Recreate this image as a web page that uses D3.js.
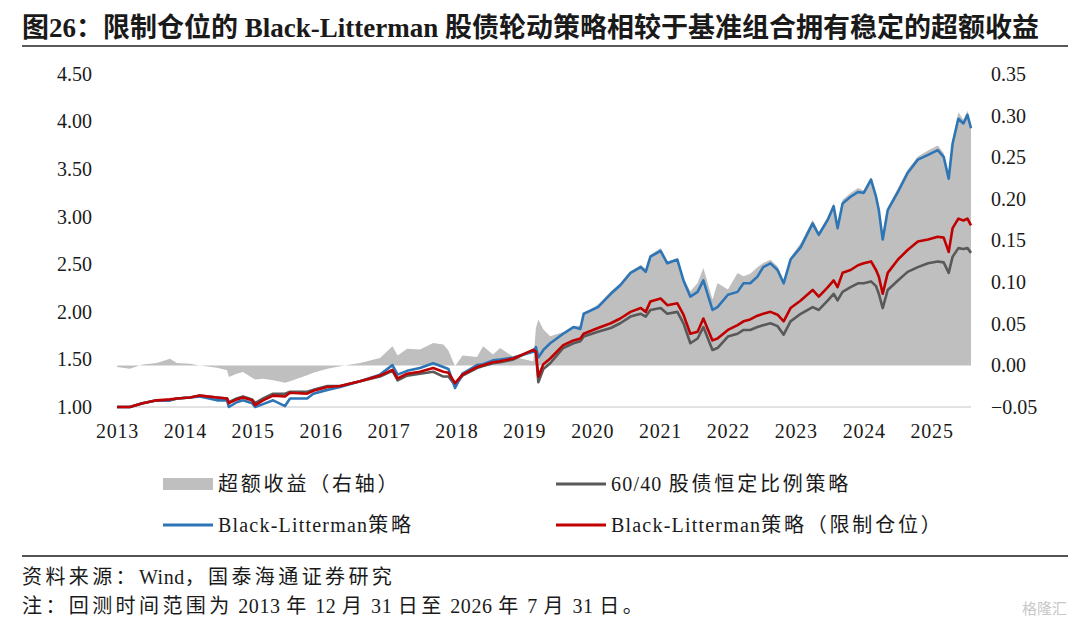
<!DOCTYPE html>
<html lang="zh">
<head>
    <meta charset="UTF-8">
    <title>Black-Litterman 股债轮动</title>
    <script src="https://d3js.org/d3.v7.min.js"></script>
    <style>
        body { margin: 0; background: #fff; }
        text { font-family: "Liberation Serif", "Noto Sans CJK SC", serif; fill: #1a1a1a; }
        .line { fill: none; stroke-width: 2.6px; stroke-linejoin: round; }
    </style>
</head>
<body>
    <svg width="1080" height="627"></svg>
    <script>
        // values (left axis = net value, right axis = excess return)
        const dates = [
            "2013-12-31","2014-03-10","2014-05-18","2014-08-02","2014-10-12","2014-11-18",
            "2015-01-28","2015-03-22","2015-06-22","2015-08-15","2015-08-25","2015-10-06","2015-11-09","2015-12-28",
            "2016-01-13","2016-02-25","2016-04-19","2016-06-22","2016-07-19","2016-10-19","2016-11-21",
            "2017-02-05","2017-04-15","2017-07-31","2017-11-15",
            "2018-01-21","2018-02-18","2018-04-10","2018-06-18","2018-08-28","2018-10-22","2018-11-18","2018-12-24",
            "2019-02-02","2019-04-21","2019-05-24","2019-07-16","2019-08-24","2019-11-03",
            "2020-02-18","2020-03-03","2020-03-16","2020-04-12","2020-05-19","2020-07-28","2020-09-21","2020-10-28","2020-11-15",
            "2021-01-31","2021-04-10","2021-05-31","2021-07-25","2021-09-18","2021-10-15","2021-11-09",
            "2022-01-03","2022-02-08","2022-04-03","2022-05-06","2022-06-12","2022-07-21","2022-08-21","2022-10-09","2022-11-05","2022-12-31",
            "2023-02-21","2023-03-25","2023-04-30","2023-06-08","2023-07-09","2023-08-17","2023-09-24","2023-10-27","2023-12-03",
            "2024-01-27","2024-03-31","2024-05-03","2024-06-21","2024-07-22","2024-08-12","2024-09-08","2024-10-21","2024-11-30","2024-12-31",
            "2025-02-08","2025-03-07","2025-03-22","2025-04-12","2025-05-09","2025-07-03","2025-08-24","2025-10-18","2025-12-12",
            "2026-02-02","2026-03-06","2026-04-02","2026-04-23","2026-05-24","2026-06-20","2026-07-12","2026-07-31"
        ];

        const blValues = [
            1.00,1.00,1.04,1.07,1.07,1.09,
            1.10,1.11,1.07,1.07,1.00,1.05,1.07,1.04,
            1.00,1.03,1.07,1.01,1.09,1.09,1.14,
            1.18,1.21,1.27,1.34,
            1.44,1.34,1.38,1.41,1.46,1.42,1.40,1.20,
            1.35,1.44,1.45,1.49,1.50,1.52,
            1.58,1.63,1.52,1.60,1.67,1.77,1.84,1.82,1.98,
            2.05,2.19,2.28,2.41,2.47,2.42,2.58,
            2.64,2.51,2.55,2.33,2.16,2.21,2.33,2.02,2.05,2.18,
            2.21,2.30,2.30,2.37,2.47,2.51,2.44,2.30,2.55,
            2.68,2.93,2.81,2.97,3.11,2.88,3.14,3.21,3.26,3.25,
            3.39,3.21,3.07,2.76,3.07,3.26,3.46,3.60,3.65,
            3.70,3.63,3.40,3.77,4.03,3.98,4.07,3.93
        ];

        const blCappedValues = [
            1.00,1.00,1.04,1.07,1.08,1.09,
            1.10,1.12,1.10,1.09,1.04,1.08,1.10,1.07,
            1.02,1.07,1.12,1.11,1.15,1.14,1.17,
            1.21,1.22,1.27,1.33,
            1.39,1.30,1.35,1.37,1.41,1.37,1.36,1.25,
            1.34,1.42,1.44,1.47,1.48,1.51,
            1.60,1.58,1.32,1.45,1.51,1.65,1.70,1.72,1.77,
            1.83,1.88,1.93,2.00,2.04,2.00,2.11,
            2.14,2.07,2.09,1.97,1.77,1.79,1.93,1.70,1.72,1.81,
            1.86,1.90,1.92,1.96,1.98,2.00,1.97,1.90,2.04,
            2.12,2.23,2.16,2.26,2.33,2.26,2.41,2.44,2.49,2.51,
            2.53,2.44,2.37,2.19,2.41,2.55,2.65,2.74,2.76,
            2.79,2.78,2.63,2.88,2.98,2.96,2.98,2.91
        ];

        const fixedValues = [
            1.00,1.00,1.04,1.07,1.07,1.09,
            1.10,1.12,1.10,1.09,1.05,1.09,1.11,1.08,
            1.04,1.09,1.14,1.14,1.16,1.16,1.18,
            1.22,1.22,1.27,1.32,
            1.38,1.28,1.33,1.35,1.37,1.32,1.32,1.23,
            1.33,1.41,1.43,1.46,1.47,1.50,
            1.60,1.57,1.26,1.40,1.46,1.62,1.67,1.69,1.74,
            1.79,1.83,1.88,1.95,1.98,1.95,2.02,
            2.04,1.98,2.00,1.88,1.67,1.72,1.84,1.60,1.62,1.74,
            1.77,1.81,1.81,1.84,1.86,1.88,1.85,1.76,1.90,
            1.98,2.05,2.02,2.12,2.19,2.12,2.21,2.26,2.30,2.30,
            2.32,2.27,2.19,2.04,2.23,2.33,2.42,2.47,2.51,
            2.53,2.52,2.41,2.58,2.67,2.66,2.67,2.62
        ];

        const excessValues = [
            -0.002,-0.004,0.001,0.003,0.008,0.003,
            0.002,0.000,-0.003,-0.006,-0.014,-0.010,-0.008,-0.015,
            -0.017,-0.016,-0.018,-0.021,-0.019,-0.012,-0.009,
            -0.004,-0.001,0.003,0.009,
            0.023,0.012,0.020,0.019,0.027,0.025,0.018,-0.001,
            0.012,0.010,0.023,0.013,0.021,0.010,
            0.005,0.045,0.055,0.043,0.035,0.040,0.047,0.048,0.062,
            0.073,0.089,0.099,0.113,0.121,0.116,0.133,
            0.141,0.125,0.128,0.105,0.089,0.099,0.117,0.079,0.099,0.091,
            0.111,0.107,0.110,0.118,0.123,0.127,0.119,0.102,0.130,
            0.147,0.175,0.160,0.179,0.195,0.168,0.199,0.207,0.213,0.210,
            0.226,0.206,0.190,0.154,0.190,0.213,0.235,0.251,0.258,
            0.264,0.255,0.228,0.271,0.304,0.295,0.306,0.288
        ];

        const yearLabels = [2013,2014,2015,2016,2017,2018,2019,2020,2021,2022,2023,2024,2025];
        const leftTicks = [1.0,1.5,2.0,2.5,3.0,3.5,4.0,4.5];
        const rightTicks = [-0.05,0,0.05,0.1,0.15,0.2,0.25,0.3,0.35];

        const parse = d3.timeParse("%Y-%m-%d");
        const rows = dates.map((d, i) => ({
            date: parse(d),
            bl: blValues[i],
            cap: blCappedValues[i],
            fixed: fixedValues[i],
            excess: excessValues[i]
        }));

        const svg = d3.select("svg");

        // CJK glyphs in the original sit wider apart than the latin ones
        function spacedText(sel, str, cjkGap, latinGap) {
            const runs = str.match(/[\u3000-\u9fff\uff00-\uffef]+|[^\u3000-\u9fff\uff00-\uffef]+/g);
            runs.forEach(r => {
                const cjk = /[\u3000-\u9fff\uff00-\uffef]/.test(r);
                sel.append("tspan")
                    .style("letter-spacing", (cjk ? cjkGap : latinGap) + "px")
                    .text(r);
            });
        }

        const x = d3.scaleTime()
            .domain([parse("2013-12-31"), parse("2026-07-31")])
            .range([117, 971]);
        const yL = d3.scaleLinear().domain([1, 4.5]).range([407, 74]);
        const yR = d3.scaleLinear().domain([-0.05, 0.35]).range([407, 74]);

        // title + rule
        svg.append("text")
            .attr("x", 22).attr("y", 37)
            .style("font-size", "27px").style("font-weight", "bold")
            .text("图26：限制仓位的 Black-Litterman 股债轮动策略相较于基准组合拥有稳定的超额收益");
        svg.append("line")
            .attr("x1", 22).attr("x2", 1068).attr("y1", 46).attr("y2", 46)
            .attr("stroke", "#595959").attr("stroke-width", 2);

        // bottom baseline
        svg.append("line")
            .attr("x1", 117).attr("x2", 971).attr("y1", 407).attr("y2", 407)
            .attr("stroke", "#d9d9d9").attr("stroke-width", 1.5);

        // excess return area, right axis
        const area = d3.area()
            .x(d => x(d.date))
            .y0(yR(0))
            .y1(d => yR(d.excess));
        svg.append("path")
            .datum(rows)
            .attr("fill", "#bfbfbf")
            .attr("d", area);

        const series = [
            { key: "fixed", color: "#595959" },
            { key: "bl", color: "#2e75b6" },
            { key: "cap", color: "#c00000" }
        ];
        series.forEach(s => {
            svg.append("path")
                .datum(rows)
                .attr("class", "line")
                .attr("stroke", s.color)
                .attr("d", d3.line().x(d => x(d.date)).y(d => yL(d[s.key])));
        });

        // left axis labels
        const leftAxis = svg.append("g").attr("transform", "translate(92,0)")
            .call(d3.axisLeft(yL).tickValues(leftTicks).tickFormat(d3.format(".2f")).tickSize(0).tickPadding(0));
        leftAxis.select(".domain").remove();
        leftAxis.selectAll("text").style("font-size", "20px").attr("fill", "#1a1a1a");

        // right axis labels
        const rightAxis = svg.append("g").attr("transform", "translate(991,0)")
            .call(d3.axisRight(yR).tickValues(rightTicks).tickFormat(d3.format(".2f")).tickSize(0).tickPadding(0));
        rightAxis.select(".domain").remove();
        rightAxis.selectAll("text").style("font-size", "20px").attr("fill", "#1a1a1a");

        // year labels at each Dec 31
        const bottomAxis = svg.append("g").attr("transform", "translate(0,424)")
            .call(d3.axisBottom(x)
                .tickValues(yearLabels.map(y => new Date(y, 11, 31)))
                .tickFormat(d3.timeFormat("%Y"))
                .tickSize(0).tickPadding(0));
        bottomAxis.select(".domain").remove();
        bottomAxis.selectAll("text").style("font-size", "20px").style("letter-spacing", "0.8px").attr("fill", "#1a1a1a");

        // legend
        const legendItems = [
            { label: "超额收益（右轴）", type: "rect", color: "#bfbfbf", x: 163, y: 484 },
            { label: "60/40 股债恒定比例策略", type: "line", color: "#595959", x: 556, y: 484 },
            { label: "Black-Litterman策略", type: "line", color: "#2e75b6", x: 163, y: 525 },
            { label: "Black-Litterman策略（限制仓位）", type: "line", color: "#c00000", x: 556, y: 525 }
        ];
        const legend = svg.append("g");
        legendItems.forEach(it => {
            if (it.type === "rect") {
                legend.append("rect").attr("x", it.x).attr("y", it.y - 6)
                    .attr("width", 50).attr("height", 12).attr("fill", it.color);
            } else {
                legend.append("line").attr("x1", it.x).attr("x2", it.x + 50)
                    .attr("y1", it.y).attr("y2", it.y)
                    .attr("stroke", it.color).attr("stroke-width", 3);
            }
            const t = legend.append("text").attr("x", it.x + 55).attr("y", it.y + 7)
                .style("font-size", "20px");
            spacedText(t, it.label, 2.8, 1.2);
        });

        // footer
        svg.append("line")
            .attr("x1", 22).attr("x2", 1068).attr("y1", 556).attr("y2", 556)
            .attr("stroke", "#1a1a1a").attr("stroke-width", 1.5);
        const src = svg.append("text").attr("x", 22).attr("y", 584).style("font-size", "20px");
        spacedText(src, "资料来源：Wind，国泰海通证券研究", 3.4, 0.5);
        const note = svg.append("text").attr("x", 22).attr("y", 613).style("font-size", "20px");
        spacedText(note, "注：回测时间范围为 2013 年 12 月 31 日至 2026 年 7 月 31 日。", 3.4, 0.6);

        svg.append("text").attr("x", 1022).attr("y", 614)
            .style("font-size", "15px").style("fill", "#c8c8c8")
            .text("格隆汇");
    </script>
</body>
</html>
